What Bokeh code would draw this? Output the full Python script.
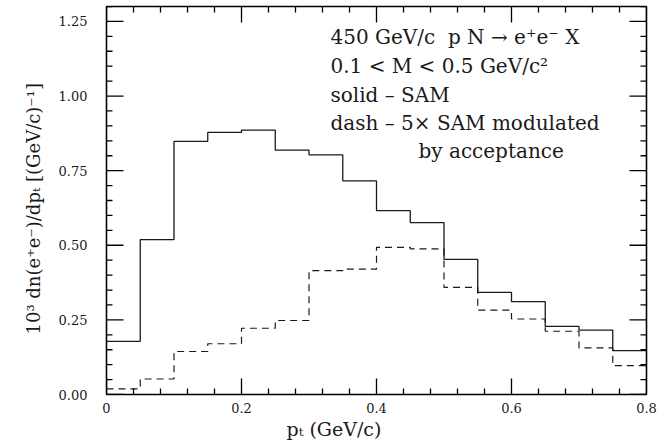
import math
from bokeh.plotting import figure
from bokeh.models import (Range1d, LinearAxis, FixedTicker, Label, Title,
                          NumeralTickFormatter, CustomJSTickFormatter)
from bokeh.embed import file_html
from bokeh.resources import INLINE

# ---- data ----
bin_edges = [0.0, 0.05, 0.10, 0.15, 0.20, 0.25, 0.30, 0.35, 0.40,
             0.45, 0.50, 0.55, 0.60, 0.65, 0.70, 0.75, 0.80]
sam_solid = [0.178, 0.519, 0.848, 0.878, 0.886, 0.819, 0.803, 0.716,
             0.616, 0.576, 0.453, 0.342, 0.311, 0.228, 0.216, 0.147]
sam_dash = [0.019, 0.052, 0.144, 0.170, 0.222, 0.248, 0.415, 0.420,
            0.493, 0.488, 0.359, 0.283, 0.253, 0.212, 0.156, 0.097]
x_ticks = [0.0, 0.2, 0.4, 0.6, 0.8]
x_tick_labels = ["0", "0.2", "0.4", "0.6", "0.8"]
x_minor_step = 0.04
y_ticks = [0.0, 0.25, 0.50, 0.75, 1.00, 1.25]
y_minor_step = 0.05
legend_lines = ["450 GeV/c\u00a0\u00a0p N \u2192 e\u207ae\u207b X",
                "0.1 < M < 0.5 GeV/c\u00b2",
                "solid \u2013 SAM",
                "dash \u2013 5\u00d7 SAM modulated",
                "by acceptance"]
x_title = "p\u209c\u00a0(GeV/c)"
y_title = "10\u00b3 dn(e\u207ae\u207b)/dp\u209c [(GeV/c)\u207b\u00b9]"

FONT = "DejaVu Serif"
INK = "#1a1a1a"
X0, X1, Y0, Y1 = 0.0, 0.8, 0.0, 1.30
W, H = 669, 446
BL, BR, BT, BB = 106, 23, 6, 52          # borders around the frame (px)

p = figure(width=W, height=H, output_backend="svg", toolbar_location=None,
           x_range=Range1d(X0, X1), y_range=Range1d(Y0, Y1),
           min_border_left=BL, min_border_right=BR, min_border_top=BT,
           min_border_bottom=BB, x_axis_location=None, y_axis_location=None)
p.background_fill_color = None
p.border_fill_color = None
p.outline_line_color = "black"
p.outline_line_width = 1.2
p.xgrid.visible = False
p.ygrid.visible = False


def style_axis(ax, labels=True):
    ax.major_tick_in = 0
    ax.major_tick_out = 0
    ax.minor_tick_in = 0
    ax.minor_tick_out = 0
    ax.axis_line_color = "black"
    ax.axis_line_width = 1.4
    ax.major_label_text_font = FONT
    ax.major_label_text_font_size = "13px"
    ax.major_label_text_color = INK
    if not labels:
        ax.formatter = CustomJSTickFormatter(code="return ''")
        ax.major_label_standoff = 0


xb = LinearAxis(ticker=FixedTicker(ticks=x_ticks))
xb.major_label_overrides = {t: l for t, l in zip(x_ticks, x_tick_labels)}
style_axis(xb)
xb.major_label_standoff = 8
p.add_layout(xb, "below")

xt = LinearAxis(ticker=FixedTicker(ticks=x_ticks))
style_axis(xt, labels=False)
p.add_layout(xt, "above")

yl = LinearAxis(ticker=FixedTicker(ticks=y_ticks),
                formatter=NumeralTickFormatter(format="0.00"))
style_axis(yl)
yl.major_label_standoff = 19
p.add_layout(yl, "left")

yr = LinearAxis(ticker=FixedTicker(ticks=y_ticks))
style_axis(yr, labels=False)
p.add_layout(yr, "right")

# ---- histograms ----
p.step(x=bin_edges, y=sam_solid + [sam_solid[-1]], mode="after",
       line_color=INK, line_width=1.3)
p.step(x=bin_edges, y=sam_dash + [sam_dash[-1]], mode="after",
       line_color=INK, line_width=1.2, line_dash="7 5")

# ---- inward tick marks: dash markers centred on the frame edges ----
MAJ_X, MAJ_Y, MIN_L = 16, 17, 6
nxm = int(round((X1 - X0) / x_minor_step))
x_minor = [X0 + i * x_minor_step for i in range(nxm + 1)]
x_minor = [v for v in x_minor if all(abs(v - t) > 1e-9 for t in x_ticks)]
nym = int(round((Y1 - Y0) / y_minor_step))
y_minor = [Y0 + i * y_minor_step for i in range(nym + 1)]
y_minor = [v for v in y_minor if all(abs(v - t) > 1e-9 for t in y_ticks)]

mk = dict(marker="dash", line_color="black", line_width=1.3,
          fill_color=None)
for xs, ln in ((x_ticks, MAJ_X), (x_minor, MIN_L)):
    p.scatter(x=xs + xs, y=[Y0] * len(xs) + [Y1] * len(xs),
              size=2 * ln, angle=math.pi / 2, **mk)
for ys, ln in ((y_ticks, MAJ_Y), (y_minor, MIN_L)):
    p.scatter(x=[X0] * len(ys) + [X1] * len(ys), y=ys + ys,
              size=2 * ln, angle=0.0, **mk)

# ---- legend text (screen units are measured from the frame's bottom-left) ----
leg_x = [330, 330, 330, 330, 418]
leg_y = [36, 65, 94, 122, 150]
for t, lx, ly in zip(legend_lines, leg_x, leg_y):
    p.add_layout(Label(x=lx - BL, y=(H - BB) - ly, x_units="screen",
                       y_units="screen", text=t, text_font=FONT,
                       text_font_size="20px", text_color=INK,
                       text_align="left", text_baseline="middle"))

# ---- axis titles ----
p.add_layout(Title(text=x_title, align="left", offset=286 - BL,
                   text_font=FONT, text_font_size="19px",
                   text_font_style="normal", text_color=INK, standoff=1),
             "below")
p.add_layout(Title(text=y_title, align="left", offset=(H - BB) - 334,
                   text_font=FONT, text_font_size="18px",
                   text_font_style="normal", text_color=INK, standoff=24),
             "left")

open("out.html", "w").write(file_html(p, INLINE))
